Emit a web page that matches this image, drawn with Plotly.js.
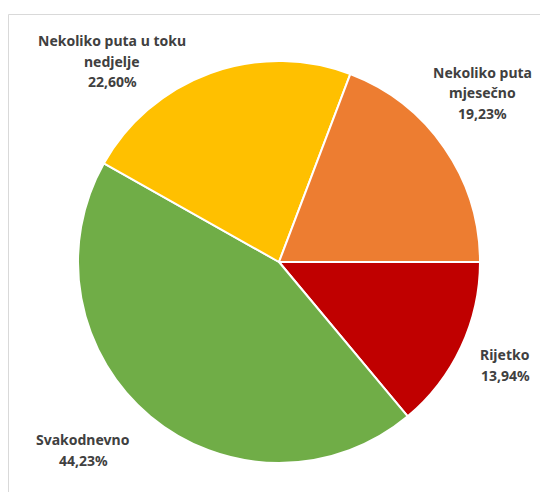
<!DOCTYPE html>
<html>
<head>
<meta charset="utf-8">
<script src="https://cdn.plot.ly/plotly-3.0.1.min.js"></script>
<style>html,body{margin:0;padding:0;background:#fff;}#chart{width:540px;height:492px;}</style>
</head>
<body>
<div id="chart"></div>
<script>
// Data
const categories = ["Rijetko", "Svakodnevno", "Nekoliko puta u toku nedjelje", "Nekoliko puta mjesečno"];
const labelLines = [["Rijetko"], ["Svakodnevno"], ["Nekoliko puta u toku", "nedjelje"], ["Nekoliko puta", "mjesečno"]];
const values = [13.94, 44.23, 22.60, 19.23];
const colors = ["#C00000", "#70AD47", "#FFC000", "#ED7D31"];

// Label anchor positions (pixel centers of first line) – layout only
const labelPos = [[505, 354], [83, 439], [112, 40], [482, 72]];

const W = 540, H = 492;
const lineGap = 21;
const annotations = [];
categories.forEach((c, i) => {
  const lines = labelLines[i].concat([values[i].toFixed(2).replace('.', ',') + '%']);
  lines.forEach((t, k) => {
    annotations.push({
      xref: 'paper', yref: 'paper',
      x: labelPos[i][0] / W,
      y: 1 - (labelPos[i][1] + k * lineGap) / H,
      xanchor: 'center', yanchor: 'middle',
      text: '<b>' + t + '</b>',
      showarrow: false,
      font: {family: 'Noto Sans, Open Sans, sans-serif', size: 14, color: '#404040'}
    });
  });
});

const trace = {
  type: 'pie',
  labels: categories,
  values: values,
  sort: false,
  direction: 'clockwise',
  rotation: 90,
  textinfo: 'none',
  hoverinfo: 'label+percent',
  marker: {colors: colors, line: {color: '#ffffff', width: 2}},
  domain: {x: [77 / W, 481 / W], y: [1 - 463 / H, 1 - 61 / H]},
  showlegend: false
};

const layout = {
  width: W, height: H,
  margin: {l: 0, r: 0, t: 0, b: 0},
  paper_bgcolor: '#ffffff',
  showlegend: false,
  annotations: annotations,
  shapes: [{
    type: 'rect', xref: 'paper', yref: 'paper',
    x0: 8.5 / W, x1: 1.2, y0: -0.2, y1: 1 - 14.5 / H,
    line: {color: '#d9d9d9', width: 1}, fillcolor: 'rgba(0,0,0,0)', layer: 'below'
  }]
};

Plotly.newPlot('chart', [trace], layout, {displayModeBar: false, staticPlot: true});
</script>
</body>
</html>
